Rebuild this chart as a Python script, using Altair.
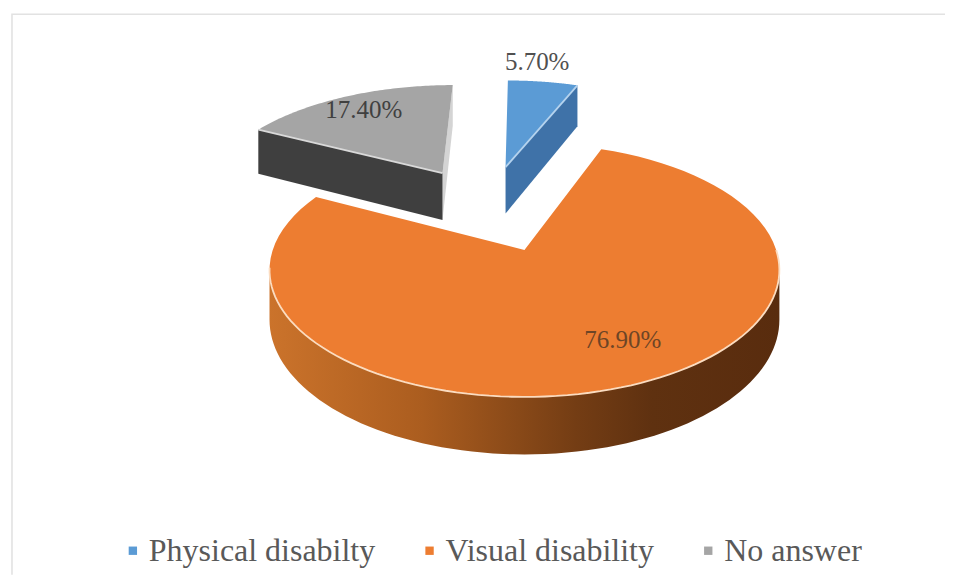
import math
import altair as alt
import pandas as pd

# ---- chart values
categories = ["Physical disabilty", "Visual disability", "No answer"]
percent = [5.7, 76.9, 17.4]
top_colors = ["#5b9bd5", "#ed7d31", "#a5a5a5"]
side_colors = ["#3f72a8", None, "#3f3f3f"]
edge_colors = ["#b5d3ee", "#fbdcc0", "#d9d9d9"]
label_colors = ["#505050", "#6d4526", "#404040"]

# ---- pie layout (pixels, perspective of a tilted disc)
CX, CY, AX, BY, K = 525, 250, 252, 123.8, 0.158
explode = [(-0.084, 0.75), (0.0, 0.0), (-0.361, 0.69)]
depth = [52, 48.5, 52]
label_radius = [1.26, 0.74, 0.80]
label_turn = [-3.4, -7.2, 0.0]
FONT = "Liberation Serif"
WIDTH, HEIGHT = 935, 567
SHIFT = 3  # the page places the plot group this far right


def project(u, v, z=0.0):
    d = 1 + K * v
    return CX + AX * u / d, CY - BY * v / d + z / d


def arc(i, t0, t1, z=0.0, steps=80):
    du, dv = explode[i]
    pts = []
    for s in range(steps + 1):
        t = math.radians(t0 + (t1 - t0) * s / steps)
        pts.append(project(du + math.sin(t), dv + math.cos(t), z))
    return pts


starts, acc = [], 0.0
for p in percent:
    starts.append(acc * 3.6)
    acc += p
ends = [s + p * 3.6 for s, p in zip(starts, percent)]

X = alt.X("x:Q", axis=None, scale=alt.Scale(domain=[8 + SHIFT, 8 + SHIFT + WIDTH], range=[0, WIDTH], padding=0, nice=False, zero=False))
Y = alt.Y("y:Q", axis=None, scale=alt.Scale(domain=[8 + HEIGHT, 8], range=[HEIGHT, 0], padding=0, nice=False, zero=False))


def table(pts):
    return pd.DataFrame({"x": [p[0] for p in pts], "y": [p[1] for p in pts], "i": range(len(pts))})


def shape(pts, fill):
    pts = list(pts) + [pts[0]]
    return alt.Chart(table(pts)).mark_line(fill=fill, stroke=None, strokeWidth=0, interpolate="linear").encode(
        x=X, y=Y, order="i:Q")


def edge(pts, color, width=1.8):
    return alt.Chart(table(pts)).mark_line(color=color, strokeWidth=width).encode(x=X, y=Y, order="i:Q")


def apex(i, z=0.0):
    return project(explode[i][0], explode[i][1], z)


layers = []

# frame of the picture
layers.append(edge([(12, 8 + HEIGHT), (12, 14), (8 + SHIFT + WIDTH, 14)], "#e2e2e2", 1.6))

# Visual disability: outer wall, top
i = 1
wall_t0, wall_t1 = 99.1, 260.9
gradient = alt.Gradient(gradient="linear", x1=0, x2=1, y1=0, y2=0, stops=[
    alt.GradientStop(offset=0, color="#cb732b"),
    alt.GradientStop(offset=0.3, color="#ab5d1f"),
    alt.GradientStop(offset=0.6, color="#743d14"),
    alt.GradientStop(offset=0.75, color="#5f3110"),
    alt.GradientStop(offset=1, color="#592c0e"),
])
layers.append(shape(arc(i, wall_t0, wall_t1) + arc(i, wall_t1, wall_t0, depth[i]), gradient))
layers.append(shape([apex(i)] + arc(i, starts[i], ends[i]), top_colors[i]))
layers.append(edge(arc(i, 90, 262), edge_colors[i]))

# No answer: cut faces and top
i = 2
a, a_low = apex(i), apex(i, depth[i])
left, left_low = arc(i, starts[i], starts[i], steps=1)[0], arc(i, starts[i], starts[i], depth[i], steps=1)[0]
back, back_low = arc(i, ends[i], ends[i], steps=1)[0], arc(i, ends[i], ends[i], depth[i], steps=1)[0]
layers.append(shape([a, back, back_low, a_low], "#d4d4d4"))
layers.append(shape([a, left, left_low, a_low], side_colors[i]))
layers.append(shape([a] + arc(i, starts[i], ends[i]), top_colors[i]))
layers.append(edge([left, a], edge_colors[i]))

# Physical disability: cut face and top
i = 0
a, a_low = apex(i), apex(i, depth[i])
right, right_low = arc(i, ends[i], ends[i], steps=1)[0], arc(i, ends[i], ends[i], depth[i], steps=1)[0]
layers.append(shape([a, right, right_low, a_low], side_colors[i]))
layers.append(shape([a] + arc(i, starts[i], ends[i]), top_colors[i]))
layers.append(edge([a, right], edge_colors[i]))

# percentage labels
rows = []
for j, cat in enumerate(categories):
    mid = math.radians((starts[j] + ends[j]) / 2 + label_turn[j])
    du, dv = explode[j]
    x, y = project(du + label_radius[j] * math.sin(mid), dv + label_radius[j] * math.cos(mid))
    rows.append({"x": x, "y": y, "label": f"{percent[j]:.2f}%", "category": cat, "ink": label_colors[j]})
labels = pd.DataFrame(rows)
layers.append(alt.Chart(labels).mark_text(font=FONT, fontSize=25).encode(
    x=X, y=Y, text="label:N", color=alt.Color("ink:N", scale=None, legend=None)))

# legend carrier
layers.append(alt.Chart(labels).mark_square(size=0).encode(
    x=X, y=Y,
    fill=alt.Fill("category:N",
                  scale=alt.Scale(domain=categories, range=top_colors),
                  legend=alt.Legend(orient="none", legendX=106, legendY=527, direction="horizontal",
                                    columns=3, title=None, symbolType="square", symbolSize=70,
                                    symbolOpacity=1, symbolStrokeWidth=0, labelFont=FONT, labelFontSize=32,
                                    labelColor="#595959", labelLimit=400, columnPadding=38,
                                    symbolOffset=0, labelOffset=0, gridAlign="none"))))

chart = alt.layer(*layers).properties(width=WIDTH, height=HEIGHT, padding=0, background="white").configure_view(stroke=None)
chart.save("out.html", embed_options={"renderer": "svg", "actions": False})
